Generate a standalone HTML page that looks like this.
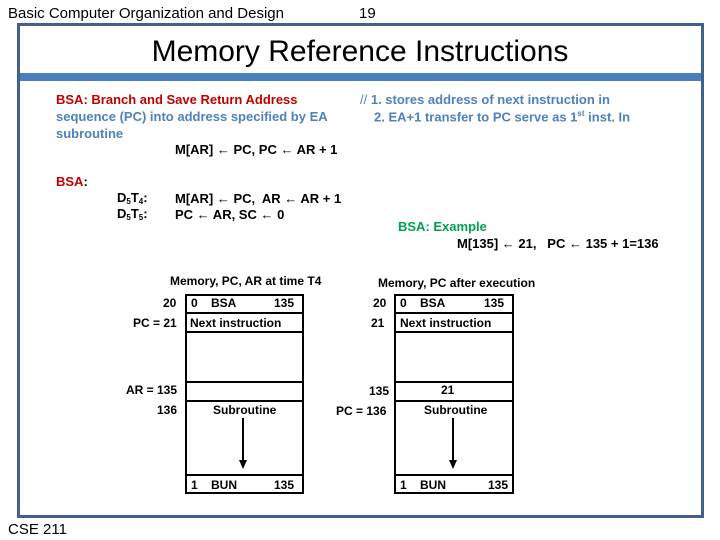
<!DOCTYPE html>
<html><head><meta charset="utf-8"><style>
body{margin:0;width:720px;height:540px;position:relative;background:#fff;overflow:hidden;font-family:"Liberation Sans",Arial,sans-serif}
.a{position:absolute;white-space:nowrap}
.b{font-weight:bold;font-size:13px}
.s{font-size:12px;font-weight:bold;color:#000}
.box{position:absolute;border:2px solid #000;box-sizing:border-box;background:#fff}
.row{position:absolute;left:0;right:0;border-top:2px solid #000}
sub{font-size:8px;vertical-align:-2px}
</style></head><body>
<div class="a" style="left:8px;top:5px;font-size:15px">Basic Computer Organization and Design</div>
<div class="a" style="left:359px;top:5px;font-size:15px">19</div>
<div style="position:absolute;left:17px;top:23px;width:681px;height:489px;border:3px solid #41618a"></div>
<div style="position:absolute;left:20px;top:73px;width:681px;height:8px;background:#4a7ebb"></div>
<div class="a" style="left:0;width:720px;text-align:center;top:35px;font-size:30px">Memory Reference Instructions</div>

<div class="a b" style="left:56px;top:92px;color:#c00000">BSA: Branch and Save Return Address</div>
<div class="a b" style="left:56px;top:109px;color:#4f81bd">sequence (PC) into address specified by EA</div>
<div class="a b" style="left:56px;top:126px;color:#4f81bd">subroutine</div>
<div class="a b" style="left:360px;top:92px;color:#4f81bd"><span style="font-weight:normal">//</span> 1. stores address of next instruction in</div>
<div class="a b" style="left:374px;top:109px;color:#4f81bd">2. EA+1 transfer to PC serve as 1<sup style="font-size:8px">st</sup> inst. In</div>
<div class="a b" style="left:175px;top:142px">M[AR] ← PC, PC ← AR + 1</div>
<div class="a b" style="left:56px;top:174px;color:#c00000">BSA<span style="color:#000">:</span></div>
<div class="a b" style="left:117px;top:190px">D<sub>5</sub>T<sub>4</sub>:</div>
<div class="a b" style="left:117px;top:206px">D<sub>5</sub>T<sub>5</sub>:</div>
<div class="a b" style="left:175px;top:191px">M[AR] ← PC,&nbsp; AR ← AR + 1</div>
<div class="a b" style="left:175px;top:207px">PC ← AR, SC ← 0</div>
<div class="a b" style="left:398px;top:219px;color:#00a050">BSA: Example</div>
<div class="a b" style="left:457px;top:236px">M[135] ← 21,&nbsp;&nbsp; PC ← 135 + 1=136</div>

<div class="a s" style="left:170px;top:274px">Memory, PC, AR at time T4</div>
<div class="a s" style="left:378px;top:276px">Memory, PC after execution</div>

<div class="box" style="left:185px;top:294px;width:119px;height:200px">
<div class="row" style="top:16px"></div><div class="row" style="top:35px"></div><div class="row" style="top:85px"></div><div class="row" style="top:104px"></div><div class="row" style="top:178px"></div>
</div>
<div class="a s" style="left:191px;top:296px">0&nbsp;&nbsp;&nbsp; BSA</div><div class="a s" style="left:274px;top:296px">135</div>
<div class="a s" style="left:190px;top:316px">Next instruction</div>
<div class="a s" style="left:213px;top:403px">Subroutine</div>
<div class="a s" style="left:191px;top:478px">1&nbsp;&nbsp;&nbsp; BUN</div><div class="a s" style="left:274px;top:478px">135</div>
<div class="a s" style="left:163px;top:296px">20</div>
<div class="a s" style="left:133px;top:316px">PC = 21</div>
<div class="a s" style="left:126px;top:383px">AR = 135</div>
<div class="a s" style="left:157px;top:403px">136</div>

<div class="box" style="left:394px;top:294px;width:120px;height:200px">
<div class="row" style="top:16px"></div><div class="row" style="top:35px"></div><div class="row" style="top:85px"></div><div class="row" style="top:104px"></div><div class="row" style="top:178px"></div>
</div>
<div class="a s" style="left:400px;top:296px">0&nbsp;&nbsp;&nbsp; BSA</div><div class="a s" style="left:484px;top:296px">135</div>
<div class="a s" style="left:400px;top:316px">Next instruction</div>
<div class="a s" style="left:441px;top:383px">21</div>
<div class="a s" style="left:424px;top:403px">Subroutine</div>
<div class="a s" style="left:400px;top:478px">1&nbsp;&nbsp;&nbsp; BUN</div><div class="a s" style="left:488px;top:478px">135</div>
<div class="a s" style="left:373px;top:296px">20</div>
<div class="a s" style="left:371px;top:316px">21</div>
<div class="a s" style="left:369px;top:384px">135</div>
<div class="a s" style="left:336px;top:404px">PC = 136</div>

<svg style="position:absolute;left:0;top:0" width="720" height="540">
<line x1="243" y1="418" x2="243" y2="462" stroke="#000" stroke-width="2"/>
<polygon points="239,460 247,460 243,469" fill="#000"/>
<line x1="453" y1="418" x2="453" y2="462" stroke="#000" stroke-width="2"/>
<polygon points="449,460 457,460 453,469" fill="#000"/>
</svg>
<div class="a" style="left:8px;top:521px;font-size:15px">CSE 211</div>
</body></html>
